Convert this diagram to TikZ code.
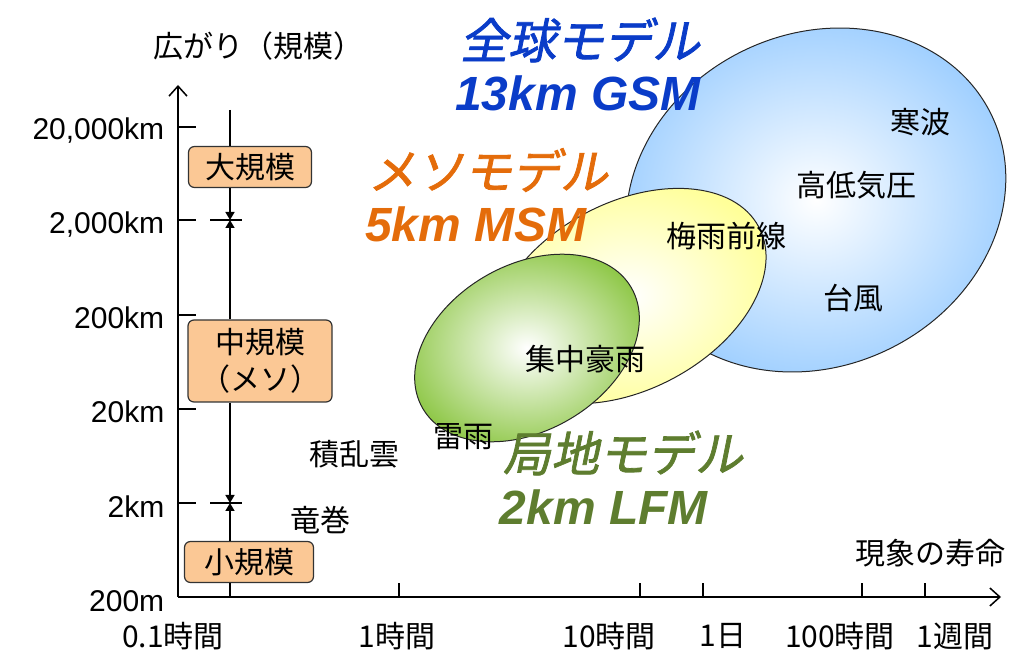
\documentclass[tikz,border=0pt]{standalone}
\usepackage{fontspec}
\setmainfont{Liberation Sans}
\newfontfamily\jp{Noto Sans CJK JP}
\newfontfamily\jpsl[FakeSlant=0.2,FakeBold=1.6]{Noto Sans CJK JP}
\usetikzlibrary{arrows.meta,shapes.geometric}
\definecolor{peach}{HTML}{FBC895}
\definecolor{gsmblue}{HTML}{0A3CC8}
\definecolor{msmorange}{HTML}{E46C0A}
\definecolor{lfmgreen}{HTML}{5E7D2F}
\definecolor{skyblue}{HTML}{99CCFF}
\definecolor{lemon}{HTML}{FFFF99}
\definecolor{leaf}{HTML}{90C84A}
\tikzset{
  scalebox/.style={draw=black!80, line width=0.6pt, fill=peach, rounded corners=3pt, inner sep=1pt,
    font=\jp\fontsize{15}{18.5}\selectfont, align=center},
  phen/.style={font=\jp\fontsize{15}{17}\selectfont, inner sep=0pt},
  ticklab/.style={font=\fontsize{15}{17}\selectfont, anchor=base east, inner sep=0pt},
  timelab/.style={font=\jp\fontsize{15}{17}\selectfont, inner sep=0pt},
  model/.style={font=\jpsl\fontsize{24}{26}\selectfont, inner sep=0pt},
  modelnum/.style={font=\bfseries\itshape\fontsize{24}{26}\selectfont, inner sep=0pt},
  blob/.style={ellipse, draw=black!85, line width=0.5pt, inner sep=0pt},
  axisline/.style={line width=0.75pt, -{Straight Barb[length=5pt,width=9pt]}},
  tri/.style={-{Triangle[length=4pt,width=4.5pt]}},
}
\begin{document}
\begin{tikzpicture}[x=0.5pt, y=-0.5pt, line width=0.75pt]
\useasboundingbox (0,0) rectangle (1024,663);

\node[blob, inner color=white, outer color=skyblue, minimum width=195pt, minimum height=166pt, rotate=26] (gsm) at (816,200) {};
\node[blob, inner color=white, outer color=lemon, minimum width=147pt, minimum height=93.5pt, rotate=28] (msm) at (629,296) {};
\node[blob, inner color=white, outer color=leaf, minimum width=120.5pt, minimum height=83pt, rotate=30] (lfm) at (527,348) {};

\coordinate (origin) at (178,597);
\coordinate (yend) at (178,85);
\coordinate (xend) at (1001,597);
\draw[axisline] (origin) -- (yend);
\draw[axisline] (origin) -- (xend);

\draw (178,127) -- (196,127);
\draw (178,220) -- (196,220);
\draw (178,315) -- (196,315);
\draw (178,409) -- (196,409);
\draw (178,503) -- (196,503);
\node[ticklab] (l20000) at (165,140) {20,000km};
\node[ticklab] (l2000) at (165,234) {2,000km};
\node[ticklab] (l200) at (165,329) {200km};
\node[ticklab] (l20) at (165,423) {20km};
\node[ticklab] (l2) at (165,517) {2km};
\node[ticklab] (l02) at (165,611) {200m};

\draw (399,597) -- (399,583);
\draw (640,597) -- (640,583);
\draw (703,597) -- (703,583);
\draw (862,597) -- (862,583);
\draw (925,597) -- (925,583);
\node[timelab] (t01h) at (173,636) {0.1時間};
\node[timelab] (t1h) at (397,636) {1時間};
\node[timelab] (t10h) at (609,636) {10時間};
\node[timelab] (t1d) at (723,636) {1日};
\node[timelab] (t100h) at (840,636) {100時間};
\node[timelab] (t1w) at (955,636) {1週間};

\node[phen] (ylabel) at (258,46) {広がり（規模）};
\node[phen] (xlabel) at (930,553) {現象の寿命};

\coordinate (top) at (230,110);
\coordinate (m2000) at (230,220);
\coordinate (m2) at (230,503);
\coordinate (bottom) at (230,597);
\node[scalebox, minimum width=61.5pt, minimum height=20.5pt] (large) at (250,167) {大規模};
\node[scalebox, minimum width=72pt, minimum height=41pt] (meso) at (260,361) {中規模\\（メソ）};
\node[scalebox, minimum width=64.5pt, minimum height=20.5pt] (small) at (249,562) {小規模};
\draw (top) -- (top |- large.north);
\draw[tri] (m2000 |- large.south) -- (m2000);
\draw[tri] (m2000 |- meso.north) -- (m2000);
\draw[tri] (m2 |- meso.south) -- (m2);
\draw[tri] (m2 |- small.north) -- (m2);
\draw (m2 |- small.south) -- (bottom);
\draw ([xshift=-10pt]m2000) -- ([xshift=6pt]m2000);
\draw ([xshift=-10pt]m2) -- ([xshift=6pt]m2);

\node[model, text=gsmblue] (gsmname) at (580,40) {全球モデル};
\node[modelnum, text=gsmblue] (gsmres) at (578,93) {13km GSM};
\node[model, text=msmorange] (msmname) at (488,170) {メソモデル};
\node[modelnum, text=msmorange] (msmres) at (476,224) {5km MSM};
\node[model, text=lfmgreen] (lfmname) at (623,453) {局地モデル};
\node[modelnum, text=lfmgreen] (lfmres) at (604,507) {2km LFM};

\node[phen] (coldwave) at (920,122) {寒波};
\node[phen] (pressure) at (856,185) {高低気圧};
\node[phen] (baiu) at (726,236) {梅雨前線};
\node[phen] (typhoon) at (853,298) {台風};
\node[phen] (heavyrain) at (585,359) {集中豪雨};
\node[phen] (thunder) at (463,437) {雷雨};
\node[phen] (cb) at (354,454) {積乱雲};
\node[phen] (tornado) at (320,520) {竜巻};
\end{tikzpicture}
\end{document}
